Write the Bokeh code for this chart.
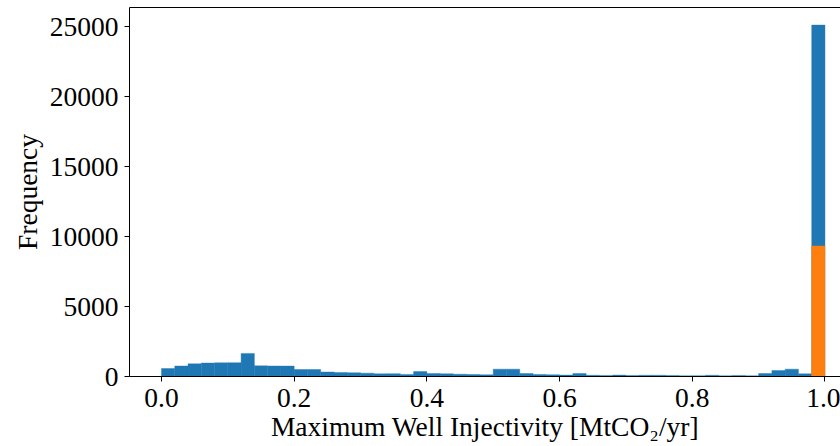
import numpy as np
from bokeh.plotting import figure
from bokeh.models import Range1d, FixedTicker, PrintfTickFormatter, LinearAxis
from bokeh.embed import file_html
from bokeh.resources import INLINE

# ---- data -------------------------------------------------------------
bin_edges = np.linspace(0.0, 1.0, 51)
blue_counts = [570, 750, 905, 960, 975, 985, 1650, 760, 750, 745,
               500, 500, 320, 290, 270, 240, 190, 200, 150, 350,
               215, 190, 165, 145, 120, 525, 525, 215, 145, 120,
               100, 215, 90, 70, 100, 70, 90, 90, 70, 50,
               60, 90, 50, 70, 50, 215, 430, 525, 190, 25105]
orange_counts = [0] * 49 + [9330]
x_ticks = [0.0, 0.2, 0.4, 0.6, 0.8, 1.0]
y_ticks = [0, 5000, 10000, 15000, 20000, 25000]
x_label = "Maximum Well Injectivity [MtCO₂/yr]"
y_label = "Frequency"

FONT = "Liberation Serif"
FS = "27.5px"

p = figure(width=840, height=446, output_backend="svg", toolbar_location=None,
           x_range=Range1d(-0.0482, 1.0234), y_range=Range1d(0, 26361),
           min_border_left=129, min_border_right=0, min_border_top=7,
           min_border_bottom=70)
p.outline_line_color = None
p.grid.visible = False
p.background_fill_color = "white"
p.border_fill_color = "white"

left = bin_edges[:-1]
right = bin_edges[1:]
p.quad(left=left, right=right, bottom=0, top=blue_counts,
       fill_color="#1f77b4", line_color="#1f77b4", line_width=0.4)
p.quad(left=left, right=right, bottom=0, top=orange_counts,
       fill_color="#ff7f0e", line_color="#ff7f0e", line_width=0.4)

for ax in (p.xaxis[0], p.yaxis[0]):
    ax.axis_line_color = "black"
    ax.axis_line_width = 1
    ax.major_tick_line_color = "black"
    ax.major_tick_in = 0
    ax.major_tick_out = 5
    ax.minor_tick_line_color = None
    ax.major_label_text_font = FONT
    ax.major_label_text_font_size = FS
    ax.major_label_text_color = "black"
    ax.axis_label_text_font = FONT
    ax.axis_label_text_font_size = FS
    ax.axis_label_text_font_style = "normal"
    ax.axis_label_text_color = "black"

p.xaxis[0].ticker = FixedTicker(ticks=x_ticks)
p.xaxis[0].formatter = PrintfTickFormatter(format="%.1f")
p.xaxis[0].axis_label = x_label
p.xaxis[0].major_label_standoff = 7
p.xaxis[0].axis_label_standoff = 1

p.yaxis[0].ticker = FixedTicker(ticks=y_ticks)
p.yaxis[0].formatter = PrintfTickFormatter(format="%d")
p.yaxis[0].axis_label = y_label
p.yaxis[0].major_label_standoff = 6
p.yaxis[0].axis_label_standoff = 4

top_axis = LinearAxis(ticker=FixedTicker(ticks=[]), major_tick_out=0, major_tick_in=0,
                      minor_tick_line_color=None, major_label_standoff=0,
                      axis_line_color="black", axis_line_width=1)
p.add_layout(top_axis, "above")

open("out.html", "w").write(file_html(p, INLINE))
